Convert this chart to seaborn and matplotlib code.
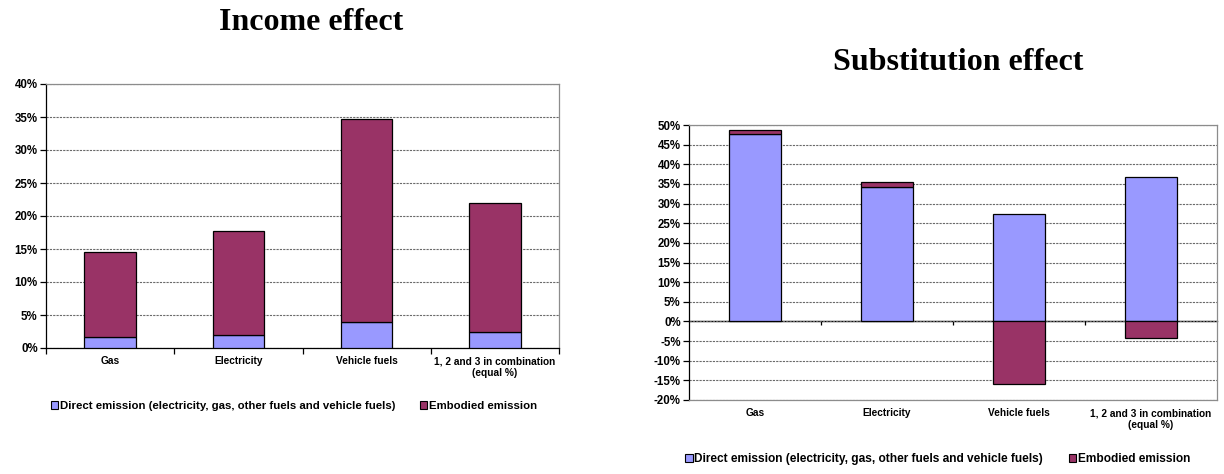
import numpy as np
import pandas as pd
import matplotlib
matplotlib.use("Agg")
import matplotlib.pyplot as plt
import seaborn as sns
from matplotlib.patches import Patch
from matplotlib.ticker import FuncFormatter

# Data (percent change in emissions)
categories = ["Gas", "Electricity", "Vehicle fuels",
              "1, 2 and 3 in combination\n(equal %)"]
income_direct = [1.6, 2.0, 3.9, 2.4]
income_embodied = [13.0, 15.8, 30.8, 19.5]
subst_direct = [47.8, 34.2, 27.4, 36.7]
subst_embodied = [0.9, 1.2, -15.8, -4.2]
series_labels = ["Direct emission (electricity, gas, other fuels and vehicle fuels)",
                 "Embodied emission"]
income_ticks = list(range(0, 41, 5))
subst_ticks = list(range(-20, 51, 5))

colors = ["#9999FF", "#993366"]

sns.set_theme(style="white")
plt.rcParams["font.family"] = ["Liberation Sans", "DejaVu Sans"]
plt.rcParams["text.color"] = "black"
plt.rcParams["xtick.color"] = "black"
plt.rcParams["ytick.color"] = "black"
plt.rcParams["xtick.labelcolor"] = "black"
plt.rcParams["ytick.labelcolor"] = "black"

W, H = 1224, 474
fig = plt.figure(figsize=(W / 100, H / 100), dpi=100)
ax1 = fig.add_axes([46 / W, 1 - 348 / H, 513 / W, 264 / H])
ax2 = fig.add_axes([689 / W, 1 - 400 / H, 528 / W, 275 / H])

pct = FuncFormatter(lambda v, _: f"{v:.0f}%")


def stacked_bars(ax, direct, embodied):
    df = pd.DataFrame({"category": categories, "direct": direct, "embodied": embodied})
    # positive embodied parts sit on top of the direct part, negative ones hang from zero
    emb_bottom = np.where(df["embodied"] > 0, df["direct"], 0.0)
    common = dict(x="category", order=categories, width=0.4, errorbar=None,
                  saturation=1, edgecolor="black", linewidth=0.9, ax=ax, zorder=3)
    sns.barplot(data=df, y="direct", color=colors[0], **common)
    sns.barplot(data=df, y="embodied", color=colors[1], bottom=emb_bottom, **common)


def style_axes(ax, ticks):
    ax.set_xlim(-0.5, len(categories) - 0.5)
    ax.set_ylim(ticks[0], ticks[-1])
    ax.set_yticks(ticks)
    ax.yaxis.set_major_formatter(pct)
    ax.set_xlabel("")
    ax.set_ylabel("")
    ax.set_axisbelow(True)
    ax.yaxis.grid(True, color="#6a6a6a", linestyle=(0, (2, 1)), linewidth=0.8)
    ax.xaxis.grid(False)
    for side in ("top", "right", "bottom"):
        ax.spines[side].set_color("#8c8c8c")
        ax.spines[side].set_linewidth(0.9)
    ax.spines["left"].set_color("black")
    ax.spines["left"].set_linewidth(0.9)
    ax.tick_params(axis="y", which="major", left=True, direction="out", length=4,
                   width=0.9, color="black", pad=2, labelsize=8.3, labelcolor="black")
    ax.tick_params(axis="x", which="major", length=0, pad=6, labelsize=7.3,
                   labelcolor="black")
    for lab in ax.get_yticklabels() + ax.get_xticklabels():
        lab.set_fontweight("bold")


# Income effect
stacked_bars(ax1, income_direct, income_embodied)
style_axes(ax1, income_ticks)
ax1.spines["bottom"].set_color("black")
ax1.set_xticks(np.arange(-0.5, len(categories), 1.0), minor=True)
ax1.tick_params(axis="x", which="minor", bottom=True, direction="out",
                length=4, width=0.9, color="black")

# Substitution effect
stacked_bars(ax2, subst_direct, subst_embodied)
style_axes(ax2, subst_ticks)
zero_frac = (0 - subst_ticks[0]) / (subst_ticks[-1] - subst_ticks[0])
zero_axis = ax2.secondary_xaxis(zero_frac)
zero_axis.spines["bottom"].set_color("black")
zero_axis.spines["bottom"].set_linewidth(1.0)
zero_axis.set_xticks(np.arange(0.5, len(categories) - 1, 1.0))
zero_axis.set_xticklabels([])
zero_axis.tick_params(axis="x", direction="out", length=3, width=0.9, color="black")

# Titles
title_font = dict(ha="center", va="center", fontsize=23, fontweight="bold",
                  color="black", family=["Liberation Serif", "DejaVu Serif"])
fig.text(311 / W, 1 - 22 / H, "Income effect", **title_font)
fig.text(958 / W, 1 - 62 / H, "Substitution effect", **title_font)

# Legends
handles = [Patch(facecolor=c, edgecolor="black", linewidth=0.8) for c in colors]
leg_kw = dict(ncol=2, frameon=False, loc="center", handlelength=0.6, handleheight=0.6,
              handletextpad=0.15, borderaxespad=0, labelcolor="black")
fig.legend(handles, series_labels, bbox_to_anchor=(294 / W, 1 - 406 / H),
           columnspacing=2.2, prop={"size": 8.2, "weight": "bold"}, **leg_kw)
fig.legend(handles, series_labels, bbox_to_anchor=(938 / W, 1 - 459 / H),
           columnspacing=2.2, prop={"size": 8.6, "weight": "bold"}, **leg_kw)

fig.savefig("out.png", dpi=100, facecolor="white")
